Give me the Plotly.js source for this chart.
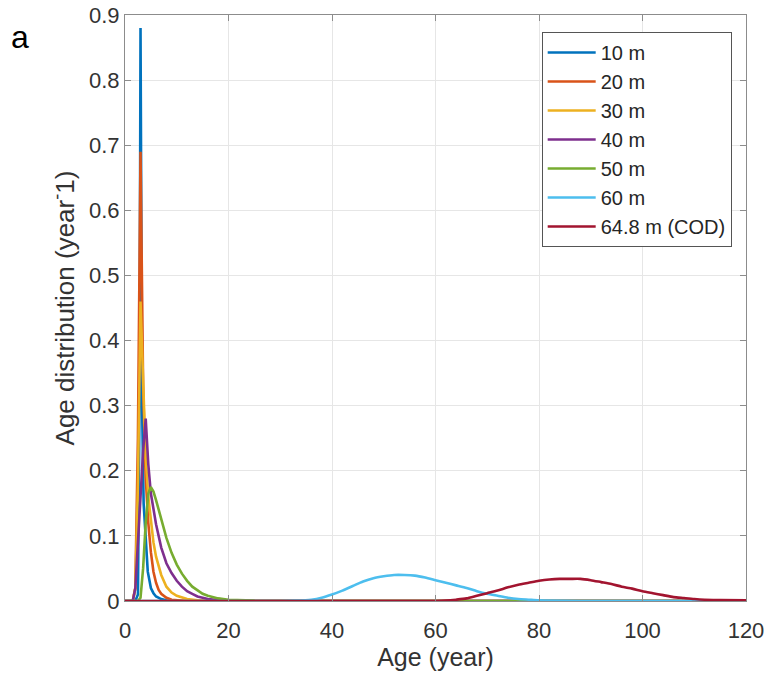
<!DOCTYPE html>
<html>
<head>
<meta charset="utf-8">
<script src="https://cdn.plot.ly/plotly-3.0.1.min.js"></script>
<style>html,body{margin:0;padding:0;background:#fff;}</style>
</head>
<body>
<div id="chart" style="width:771px;height:680px;"></div>
<script>
// Series names and colours
const seriesNames = ['10 m', '20 m', '30 m', '40 m', '50 m', '60 m', '64.8 m (COD)'];
const seriesColors = ['#0072BD', '#D95319', '#EDB120', '#7E2F8E', '#77AC30', '#4DBEEE', '#A2142F'];

// 10 m
const ages10 = [0, 2, 2.5, 2.8, 3, 3.3, 3.6, 4, 4.4, 5, 5.5, 6, 7, 8, 10, 120];
const vals10 = [0, 0, 0.01, 0.3, 0.88, 0.3, 0.15, 0.09, 0.045, 0.02, 0.012, 0.007, 0.003, 0.001, 0, 0];
// 20 m
const ages20 = [0, 1.5, 2, 2.5, 3, 3.5, 4, 4.5, 5, 5.5, 6, 6.5, 7, 8, 9, 10, 12, 120];
const vals20 = [0, 0, 0.02, 0.25, 0.69, 0.33, 0.19, 0.12, 0.075, 0.045, 0.028, 0.017, 0.011, 0.005, 0.002, 0.001, 0, 0];
// 30 m
const ages30 = [0, 1.5, 2, 2.5, 3, 3.5, 4, 4.5, 5, 5.5, 6, 6.5, 7, 8, 9, 10, 11, 12, 14, 16, 120];
const vals30 = [0, 0, 0.02, 0.18, 0.46, 0.33, 0.22, 0.16, 0.12, 0.09, 0.068, 0.052, 0.04, 0.022, 0.013, 0.008, 0.005, 0.003, 0.001, 0, 0];
// 40 m
const ages40 = [0, 1.5, 2, 2.5, 3, 3.5, 4, 4.5, 5, 5.5, 6, 7, 8, 9, 10, 11, 12, 13, 14, 15, 16, 18, 20, 25, 120];
const vals40 = [0, 0, 0.02, 0.09, 0.17, 0.23, 0.28, 0.21, 0.165, 0.14, 0.118, 0.082, 0.058, 0.043, 0.031, 0.022, 0.015, 0.011, 0.007, 0.005, 0.003, 0.0015, 0.0007, 0, 0];
// 50 m
const ages50 = [0, 2.5, 3, 3.5, 4, 4.5, 5, 5.5, 6, 7, 8, 9, 10, 11, 12, 13, 14, 15, 16, 17, 18, 20, 22, 25, 30, 120];
const vals50 = [0, 0, 0.005, 0.05, 0.12, 0.165, 0.175, 0.168, 0.155, 0.125, 0.097, 0.074, 0.056, 0.042, 0.031, 0.022, 0.016, 0.011, 0.008, 0.006, 0.004, 0.002, 0.001, 0.0005, 0, 0];
// 60 m
const ages60 = [0, 30, 33, 36, 38, 40, 42, 44, 46, 48, 50, 52, 54, 56, 58, 60, 62, 64, 66, 68, 70, 72, 74, 76, 78, 80, 85, 90, 120];
const vals60 = [0, 0, 0.0005, 0.002, 0.005, 0.01, 0.016, 0.023, 0.03, 0.035, 0.038, 0.04, 0.04, 0.039, 0.036, 0.032, 0.028, 0.024, 0.02, 0.015, 0.011, 0.008, 0.005, 0.003, 0.002, 0.001, 0.0003, 0, 0];
// 64.8 m (COD)
const agesCOD = [0, 60, 62, 64, 66, 68, 70, 72, 74, 76, 78, 80, 82, 84, 86, 88, 90, 92, 94, 96, 98, 100, 102, 104, 106, 108, 110, 112, 115, 120];
const valsCOD = [0, 0, 0.0005, 0.002, 0.004, 0.008, 0.012, 0.016, 0.021, 0.025, 0.028, 0.031, 0.033, 0.034, 0.034, 0.034, 0.032, 0.029, 0.026, 0.022, 0.019, 0.015, 0.012, 0.009, 0.006, 0.0045, 0.003, 0.002, 0.0015, 0.001];

// Tick labels
const xTicks = [0, 20, 40, 60, 80, 100, 120];
const yTicks = [0, 0.1, 0.2, 0.3, 0.4, 0.5, 0.6, 0.7, 0.8, 0.9];

const allAges = [ages10, ages20, ages30, ages40, ages50, ages60, agesCOD];
const allVals = [vals10, vals20, vals30, vals40, vals50, vals60, valsCOD];
const smooth = [false, false, false, false, false, true, true];

const traces = seriesNames.map((name, i) => ({
  type: 'scatter',
  mode: 'lines',
  name: name,
  x: allAges[i],
  y: allVals[i],
  legendgroup: 'g' + i,
  line: smooth[i] ? {color: seriesColors[i], width: 2.6, shape: 'spline', smoothing: 0.6}
                  : {color: seriesColors[i], width: 2.6}
}));

const axisCommon = {
  showline: true,
  mirror: 'ticks',
  linecolor: '#8c8c8c',
  linewidth: 1,
  ticks: 'inside',
  ticklen: 6,
  tickcolor: '#8c8c8c',
  showgrid: true,
  gridcolor: '#e6e6e6',
  gridwidth: 1,
  zeroline: false,
  tickfont: {size: 22, color: '#333333'}
};

const layout = {
  width: 771,
  height: 680,
  margin: {l: 125, r: 25, t: 15, b: 79},
  paper_bgcolor: '#ffffff',
  plot_bgcolor: '#ffffff',
  font: {family: 'Liberation Sans, Arial, sans-serif', size: 20, color: '#262626'},
  showlegend: true,
  xaxis: Object.assign({}, axisCommon, {
    range: [0, 120],
    tickvals: xTicks,
    ticktext: xTicks.map(String),
    ticklabelstandoff: 10,
    title: {text: 'Age (year)', font: {size: 25, color: '#333333'}, standoff: 2}
  }),
  yaxis: Object.assign({}, axisCommon, {
    range: [0, 0.9],
    tickvals: yTicks,
    ticktext: yTicks.map(v => v === 0 ? '0' : v.toFixed(1)),
    title: {text: 'Age distribution (year<sup>-</sup>1)', font: {size: 26, color: '#333333'}, standoff: 6}
  }),
  legend: {
    x: 0.671, y: 0.971, xanchor: 'left', yanchor: 'top',
    bgcolor: '#ffffff',
    bordercolor: '#555555',
    borderwidth: 1,
    font: {size: 20, color: '#262626'},
    traceorder: 'grouped',
    tracegroupgap: 0,
    itemwidth: 48
  },
  annotations: [{
    text: 'a', xref: 'paper', yref: 'paper',
    x: -0.186, y: 0.962, xanchor: 'left', yanchor: 'middle',
    showarrow: false, font: {size: 32, color: '#000000'}
  }]
};

Plotly.newPlot('chart', traces, layout, {displayModeBar: false, staticPlot: true});
</script>
</body>
</html>
